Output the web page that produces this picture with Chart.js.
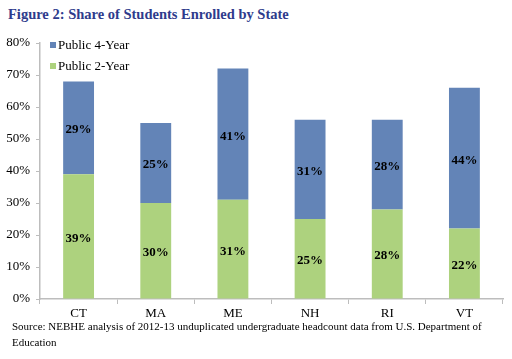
<!DOCTYPE html>
<html>
<head>
<meta charset="utf-8">
<script src="https://cdn.jsdelivr.net/npm/chart.js@4/dist/chart.umd.min.js"></script>
<style>
  html, body { margin: 0; padding: 0; background: #fff; }
  body { width: 512px; height: 359px; position: relative; overflow: hidden; font-family: "Liberation Serif", serif; }
  #title { position: absolute; left: 8px; top: 6px; font-size: 14.5px; font-weight: bold; color: #2e3b8c; white-space: nowrap; }
  #wrap { position: absolute; left: 0; top: 26px; width: 512px; height: 297px; }
  #source { position: absolute; left: 12px; top: 318px; font-size: 11px; line-height: 16px; color: #000; white-space: nowrap; }
</style>
</head>
<body>
<div id="title">Figure 2: Share of Students Enrolled by State</div>
<div id="wrap"><canvas id="chart"></canvas></div>
<div id="source">Source: NEBHE analysis of 2012-13 unduplicated undergraduate headcount data from U.S. Department of<br>Education</div>
<script>
// Data
const states = ['CT', 'MA', 'ME', 'NH', 'RI', 'VT'];
const public2Year = [39, 30, 31, 25, 28, 22];
const public4Year = [29, 25, 41, 31, 28, 44];
const yTicks = [0, 10, 20, 30, 40, 50, 60, 70, 80];

const colors = {
    fourYear: '#6384b7',
    twoYear: '#add27e',
    axis: '#bdbdbd'
};

const serif = '"Liberation Serif", serif';

// Draw value labels in each segment plus the inside legend
const segmentLabels = {
    id: 'segmentLabels',
    afterDatasetsDraw(chart) {
        const ctx = chart.ctx;
        ctx.save();
        ctx.font = 'bold 13px ' + serif;
        ctx.fillStyle = '#000';
        ctx.textAlign = 'center';
        ctx.textBaseline = 'middle';
        chart.data.datasets.forEach((ds, i) => {
            chart.getDatasetMeta(i).data.forEach((bar, j) => {
                const mid = (bar.y + bar.base) / 2 + 2;
                ctx.fillText(ds.data[j] + '%', bar.x, mid);
            });
        });

        // legend (4-Year listed first)
        const area = chart.chartArea;
        const items = [
            { text: 'Public 4-Year', color: colors.fourYear },
            { text: 'Public 2-Year', color: colors.twoYear }
        ];
        ctx.font = '13px ' + serif;
        ctx.textAlign = 'left';
        items.forEach((it, k) => {
            const y = area.top + 2 + k * 21;
            ctx.fillStyle = it.color;
            ctx.fillRect(area.left + 10, y - 3, 6, 6);
            ctx.fillStyle = '#000';
            ctx.fillText(it.text, area.left + 18, y + 1);
        });
        ctx.restore();
    }
};

new Chart(document.getElementById('chart'), {
    type: 'bar',
    data: {
        labels: states,
        datasets: [
            { label: 'Public 2-Year', data: public2Year, backgroundColor: colors.twoYear },
            { label: 'Public 4-Year', data: public4Year, backgroundColor: colors.fourYear }
        ]
    },
    options: {
        responsive: true,
        maintainAspectRatio: false,
        animation: false,
        layout: { padding: { left: 0, right: 9, top: 17, bottom: 0 } },
        datasets: { bar: { barPercentage: 0.4, categoryPercentage: 1.0 } },
        plugins: {
            legend: { display: false },
            tooltip: { enabled: false }
        },
        scales: {
            x: {
                stacked: true,
                grid: { display: true, drawOnChartArea: false, drawTicks: true, tickLength: 5, color: colors.axis, offset: true },
                border: { color: colors.axis, width: 1.5 },
                ticks: { color: '#000', font: { family: serif, size: 13 }, padding: 2 },
                afterFit(s) { s.height = 24; }
            },
            y: {
                stacked: true,
                min: 0,
                max: 80,
                afterBuildTicks(s) { s.ticks = yTicks.map(v => ({ value: v })); },
                grid: { display: true, drawOnChartArea: false, drawTicks: true, tickLength: 4, color: colors.axis },
                border: { color: colors.axis, width: 1.5 },
                ticks: { color: '#000', font: { family: serif, size: 13 }, padding: 6, callback: v => v + '%' },
                afterFit(s) { s.width = 40; }
            }
        }
    },
    plugins: [segmentLabels]
});
</script>
</body>
</html>
